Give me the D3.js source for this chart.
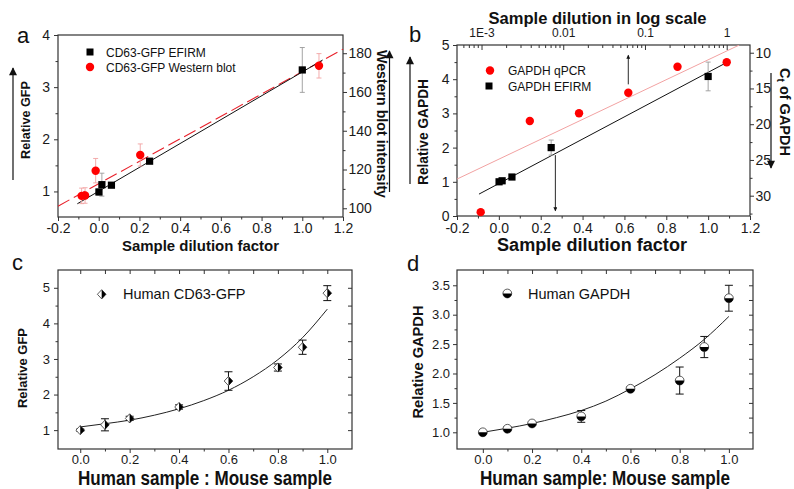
<!DOCTYPE html>
<html><head><meta charset="utf-8">
<script src="https://cdn.jsdelivr.net/npm/d3@7"></script>
<style>body{margin:0;background:#fff}svg{display:block;font-family:"Liberation Sans",Arial,sans-serif}</style>
</head><body><svg id="fig" width="794" height="489"></svg>
<script>
// ---------- Panel a ----------
const aEfirmX = [0.001, 0.0156, 0.0625, 0.25, 1.0];
const aEfirmY = [0.99, 1.13, 1.12, 1.58, 3.33];
const aEfirmErr = [0.06, 0.22, 0.04, 0.04, 0.43];
const aWbX = [-0.084, -0.067, -0.015, 0.204, 1.082];
const aWbY = [106.4, 106.6, 119.4, 127.5, 173.5];   // Western blot intensity
const aWbErr = [4.0, 4.0, 6.3, 5.7, 6.3];
const aEfirmFitX = [-0.105, 1.1], aEfirmFitY = [0.764, 3.52];
const aWbFitX = [-0.2, 1.2], aWbFitY = [101.1, 182.1];
const abXTicks = [-0.2, 0, 0.2, 0.4, 0.6, 0.8, 1.0, 1.2];
const abXMinor = [-0.1, 0.1, 0.3, 0.5, 0.7, 0.9, 1.1];
const aYTicks = [1, 2, 3, 4], aYMinor = [1.5, 2.5, 3.5];
const aY2Ticks = [100, 120, 140, 160, 180], aY2Minor = [110, 130, 150, 170];

// ---------- Panel b ----------
const bQpcrDil = [0.000977, 0.0039, 0.0156, 0.0625, 0.25, 1.0];
const bQpcrCt = [32.3, 19.55, 18.47, 15.59, 11.96, 11.34];
const bEfirmX = [0.001, 0.0156, 0.0625, 0.25, 1.0];
const bEfirmY = [1.0, 1.03, 1.14, 2.0, 4.08];
const bEfirmErr = [0.03, 0.03, 0.04, 0.22, 0.42];
const bEfirmFitX = [-0.095, 1.08], bEfirmFitY = [0.64, 4.46];
const bQpcrFitX = [-0.2, 1.149], bQpcrFitY = [1.08, 5.0];
const bYTicks = [0, 1, 2, 3, 4, 5], bYMinor = [0.5, 1.5, 2.5, 3.5, 4.5];
const bTopTicks = [0.001, 0.01, 0.1, 1], bTopLabels = ["1E-3", "0.01", "0.1", "1"];
const bCtTicks = [10, 15, 20, 25, 30], bCtMinor = [12.5, 17.5, 22.5, 27.5, 32.5];

// ---------- Panel c ----------
const cX = [0, 0.1, 0.2, 0.4, 0.6, 0.8, 0.9, 1.0];
const cY = [1.0, 1.15, 1.33, 1.65, 2.38, 2.76, 3.33, 4.85];
const cErr = [0.03, 0.17, 0.06, 0.06, 0.26, 0.1, 0.2, 0.21];
const cFitX = [0, 0.1, 0.2, 0.3, 0.4, 0.5, 0.6, 0.7, 0.8, 0.9, 1.0];
const cFitY = [1.09, 1.18, 1.28, 1.42, 1.60, 1.83, 2.12, 2.50, 2.98, 3.60, 4.40];
const cdXTicks = [0, 0.2, 0.4, 0.6, 0.8, 1.0], cdXMinor = [0.1, 0.3, 0.5, 0.7, 0.9];
const cdTopTicks = [0, 0.1, 0.2, 0.3, 0.4, 0.5, 0.6, 0.7, 0.8, 0.9, 1.0];
const cYTicks = [1, 2, 3, 4, 5], cYMinor = [1.5, 2.5, 3.5, 4.5];
const cRightTicks = [1, 1.5, 2, 2.5, 3, 3.5, 4, 4.5, 5];

// ---------- Panel d ----------
const dX = [0, 0.1, 0.2, 0.4, 0.6, 0.8, 0.9, 1.0];
const dY = [1.0, 1.06, 1.15, 1.27, 1.74, 1.88, 2.45, 3.28];
const dErr = [0.02, 0.03, 0.03, 0.1, 0.03, 0.23, 0.18, 0.22];
const dFitX = [0, 0.1, 0.2, 0.3, 0.4, 0.5, 0.6, 0.7, 0.8, 0.9, 1.0];
const dFitY = [1.0, 1.07, 1.15, 1.25, 1.37, 1.53, 1.74, 1.98, 2.26, 2.58, 2.97];
const dYTicks = [1.0, 1.5, 2.0, 2.5, 3.0, 3.5], dYMinor = [1.25, 1.75, 2.25, 2.75, 3.25];
const dRightTicks = [1.0, 1.25, 1.5, 1.75, 2.0, 2.25, 2.5, 2.75, 3.0, 3.25, 3.5];

const FONT = '"Liberation Sans", Arial, sans-serif';
const svg = d3.select('#fig');
svg.append('rect').attr('width', 794).attr('height', 489).attr('fill', '#fff');

const defs = svg.append('defs');
function mk(id, w, h) {
  defs.append('marker').attr('id', id).attr('viewBox', '0 0 10 10').attr('refX', 9).attr('refY', 5)
    .attr('markerWidth', w).attr('markerHeight', h).attr('markerUnits', 'userSpaceOnUse')
    .attr('orient', 'auto').append('path').attr('d', 'M0,0 L10,5 L0,10 z').attr('fill', '#111');
}
mk('ahBig', 9, 8); mk('ahSmall', 5, 4);

function ax(gen, scale, tr, vals, o) {
  o = Object.assign({ size: 4, inward: false, labels: false, fmt: d => d, pad: 3, fs: 14 }, o);
  const a = gen(scale).tickValues(vals).tickSizeInner(o.inward ? -o.size : o.size).tickSizeOuter(0)
    .tickPadding(o.pad).tickFormat(o.labels ? o.fmt : () => '');
  const g = svg.append('g').attr('transform', tr).call(a);
  g.select('.domain').remove();
  g.attr('font-family', FONT).attr('font-size', o.fs);
  g.selectAll('line').attr('stroke', '#333').attr('stroke-width', 1);
  g.selectAll('text').attr('fill', '#1a1a1a');
  return g;
}
function box(x0, y0, x1, y1) {
  svg.append('rect').attr('x', x0).attr('y', y0).attr('width', x1 - x0).attr('height', y1 - y0)
    .attr('fill', 'none').attr('stroke', '#333').attr('stroke-width', 1.2);
}
function txt(x, y, s, o) {
  o = Object.assign({ fs: 14, bold: false, anchor: 'start', rot: 0 }, o);
  const t = svg.append('text').attr('transform', `translate(${x},${y}) rotate(${o.rot})`)
    .attr('font-family', FONT).attr('font-size', o.fs).attr('font-weight', o.bold ? 'bold' : 'normal')
    .attr('text-anchor', o.anchor).attr('fill', '#111').text(s);
  if (o.len) t.attr('textLength', o.len).attr('lengthAdjust', 'spacingAndGlyphs');
  return t;
}
function arrow(x1, y1, x2, y2, id, w) {
  svg.append('line').attr('x1', x1).attr('y1', y1).attr('x2', x2).attr('y2', y2)
    .attr('stroke', '#111').attr('stroke-width', w || 1).attr('marker-end', `url(#${id})`);
}
function errBars(xs, ys, es, xS, yS, cap, color, w) {
  xs.forEach((x, i) => {
    const px = xS(x), y1 = yS(ys[i] - es[i]), y2 = yS(ys[i] + es[i]);
    const g = svg.append('g').attr('stroke', color).attr('stroke-width', w || 1);
    g.append('line').attr('x1', px).attr('x2', px).attr('y1', y1).attr('y2', y2);
    g.append('line').attr('x1', px - cap).attr('x2', px + cap).attr('y1', y1).attr('y2', y1);
    g.append('line').attr('x1', px - cap).attr('x2', px + cap).attr('y1', y2).attr('y2', y2);
  });
}
function fitLine(xs, ys, xS, yS, stroke, w, dash) {
  svg.append('path').attr('d', d3.line().x((d, i) => xS(d)).y((d, i) => yS(ys[i])).curve(d3.curveMonotoneX)(xs))
    .attr('fill', 'none').attr('stroke', stroke).attr('stroke-width', w).attr('stroke-dasharray', dash || null);
}
const f1 = d => d.toFixed(1);

// ================= Panel a =================
{
  const x = d3.scaleLinear([-0.2, 1.2], [58, 343]);
  const y = d3.scaleLinear([0.51, 4], [217, 35]);
  const y2 = d3.scaleLinear([95.5, 189.4], [217, 35]);
  ax(d3.axisBottom, x, 'translate(0,217)', abXTicks, { labels: true, fmt: f1, pad: 2.5 });
  ax(d3.axisBottom, x, 'translate(0,217)', abXMinor, { size: 2.5 });
  ax(d3.axisLeft, y, 'translate(58,0)', aYTicks, { labels: true, pad: 4 });
  ax(d3.axisLeft, y, 'translate(58,0)', aYMinor, { size: 2.5 });
  ax(d3.axisRight, y2, 'translate(343,0)', aY2Ticks, { labels: true, pad: 1.5 });
  ax(d3.axisRight, y2, 'translate(343,0)', aY2Minor, { size: 2.5 });
  box(58, 35, 343, 217);
  fitLine(aWbFitX, aWbFitY, x, y2, '#e8202a', 1.1, '13,5');
  fitLine(aEfirmFitX, aEfirmFitY, x, y, '#111', 1);
  errBars(aEfirmX, aEfirmY, aEfirmErr, x, y, 2.5, '#9a9a9a', 0.9);
  errBars(aWbX, aWbY, aWbErr, x, y2, 2.5, '#f2a3a3', 0.9);
  aEfirmX.forEach((d, i) => svg.append('rect').attr('x', x(d) - 3.6).attr('y', y(aEfirmY[i]) - 3.6)
    .attr('width', 7.2).attr('height', 7.2).attr('fill', '#000'));
  aWbX.forEach((d, i) => svg.append('circle').attr('cx', x(d)).attr('cy', y2(aWbY[i])).attr('r', 4.2).attr('fill', '#f00'));
  // legend
  svg.append('rect').attr('x', 86.5).attr('y', 48.5).attr('width', 7).attr('height', 7).attr('fill', '#000');
  txt(106, 57, 'CD63-GFP EFIRM', { fs: 12 });
  svg.append('circle').attr('cx', 90).attr('cy', 67).attr('r', 4.2).attr('fill', '#f00');
  txt(106, 71.5, 'CD63-GFP Western blot', { fs: 12 });
  // labels
  txt(17, 43, 'a', { fs: 22 });
  txt(30, 120, 'Relative GFP', { fs: 13, bold: true, anchor: 'middle', rot: -90, len: 78 });
  arrow(13, 180, 13, 68, 'ahBig', 1.2);
  txt(377, 124, 'Western blot intensity', { fs: 14, bold: true, anchor: 'middle', rot: 90, len: 148 });
  arrow(389.5, 192, 389.5, 51, 'ahBig', 1.2);
  txt(200.5, 251, 'Sample dilution factor', { fs: 15, bold: true, anchor: 'middle', len: 157 });
}

// ================= Panel b =================
{
  const x = d3.scaleLinear([-0.2, 1.2], [457, 750]);
  const y = d3.scaleLinear([0, 5], [216, 45]);
  const xt = d3.scaleLog([Math.pow(10, -3.3), Math.pow(10, 0.285)], [457, 750]);
  const yr = d3.scaleLinear([8.92, 32.84], [45, 216]);
  ax(d3.axisBottom, x, 'translate(0,216)', abXTicks, { labels: true, fmt: f1, pad: 3.5 });
  ax(d3.axisBottom, x, 'translate(0,216)', abXMinor, { size: 2.5 });
  ax(d3.axisLeft, y, 'translate(457,0)', bYTicks, { labels: true, pad: 3.5 });
  ax(d3.axisLeft, y, 'translate(457,0)', bYMinor, { size: 2.5 });
  ax(d3.axisRight, yr, 'translate(750,0)', bCtTicks, { labels: true, pad: 1.5 });
  ax(d3.axisRight, yr, 'translate(750,0)', bCtMinor, { size: 2.5 });
  const topMinor = [];
  bTopTicks.forEach(t => { for (let k = 2; k <= 9; k++) topMinor.push(t * k); });
  [6, 7, 8, 9].forEach(k => topMinor.push(0.0001 * k));
  const tm = topMinor.filter(v => v > xt.domain()[0] && v < xt.domain()[1]);
  ax(d3.axisTop, xt, 'translate(0,45)', bTopTicks, { labels: true, inward: true, size: 5, pad: 8, fs: 12,
    fmt: (d, i) => bTopLabels[i] });
  ax(d3.axisTop, xt, 'translate(0,45)', tm, { inward: true, size: 3 });
  box(457, 45, 750, 216);
  defs.append('clipPath').attr('id', 'clipB').append('rect').attr('x', 457).attr('y', 45).attr('width', 293).attr('height', 171);
  svg.append('path').attr('clip-path', 'url(#clipB)')
    .attr('d', d3.line().x(d => x(d)).y((d, i) => y(bQpcrFitY[i]))(bQpcrFitX))
    .attr('fill', 'none').attr('stroke', '#f2a2a2').attr('stroke-width', 1);
  fitLine(bEfirmFitX, bEfirmFitY, x, y, '#111', 1);
  errBars(bEfirmX, bEfirmY, bEfirmErr, x, y, 2.5, '#9a9a9a', 0.9);
  bEfirmX.forEach((d, i) => svg.append('rect').attr('x', x(d) - 3.6).attr('y', y(bEfirmY[i]) - 3.6)
    .attr('width', 7.2).attr('height', 7.2).attr('fill', '#000'));
  bQpcrDil.forEach((d, i) => svg.append('circle').attr('cx', xt(d)).attr('cy', yr(bQpcrCt[i])).attr('r', 4.2).attr('fill', '#f00'));
  // annotation arrows
  arrow(x(0.27), y(1.78), x(0.27), y(0.15), 'ahSmall', 0.9);
  arrow(xt(0.0625), y(3.85), xt(0.0625), y(4.7), 'ahSmall', 0.9);
  // legend
  svg.append('circle').attr('cx', 490).attr('cy', 70.5).attr('r', 4.2).attr('fill', '#f00');
  txt(508, 75, 'GAPDH qPCR', { fs: 12 });
  svg.append('rect').attr('x', 485.5).attr('y', 82.5).attr('width', 7).attr('height', 7).attr('fill', '#000');
  txt(508, 90.5, 'GAPDH EFIRM', { fs: 12 });
  // labels
  txt(409, 42, 'b', { fs: 22 });
  txt(597.5, 24, 'Sample dilution in log scale', { fs: 16.5, bold: true, anchor: 'middle', len: 218 });
  txt(428, 132, 'Relative GAPDH', { fs: 14, bold: true, anchor: 'middle', rot: -90, len: 106 });
  arrow(410, 184, 410, 57, 'ahBig', 1.2);
  const ct = svg.append('text').attr('transform', 'translate(780,112) rotate(90)')
    .attr('font-family', FONT).attr('font-size', 14.5).attr('font-weight', 'bold').attr('text-anchor', 'middle').attr('fill', '#111');
  ct.append('tspan').text('C');
  ct.append('tspan').attr('font-size', 10).attr('dy', 3.5).text('t');
  ct.append('tspan').attr('dy', -3.5).text(' of GAPDH');
  arrow(771, 73, 771, 168, 'ahBig', 1.2);
  txt(592, 251, 'Sample dilution factor', { fs: 18, bold: true, anchor: 'middle', len: 190 });
}

// ================= Panel c =================
function diamond(px, py) {
  const w = 4.3, h = 4.6;
  svg.append('path').attr('d', `M${px},${py - h}L${px + w},${py}L${px},${py + h}L${px - w},${py}Z`)
    .attr('fill', '#fff').attr('stroke', '#333').attr('stroke-width', 0.8);
  svg.append('path').attr('d', `M${px},${py - h}L${px + w},${py}L${px},${py + h}Z`).attr('fill', '#000');
}
function halfCircle(px, py) {
  const r = 4.4;
  svg.append('circle').attr('cx', px).attr('cy', py).attr('r', r).attr('fill', '#fff').attr('stroke', '#333').attr('stroke-width', 0.8);
  svg.append('path').attr('d', `M${px - r},${py}A${r},${r} 0 0 0 ${px + r},${py}Z`).attr('fill', '#000');
}
{
  const x = d3.scaleLinear([-0.09, 1.1], [58, 352]);
  const y = d3.scaleLinear([0.47, 5.5], [449, 270]);
  ax(d3.axisBottom, x, 'translate(0,449)', cdXTicks, { labels: true, fmt: f1, pad: 1.5, fs: 13 });
  ax(d3.axisBottom, x, 'translate(0,449)', cdXMinor, { size: 2.5 });
  ax(d3.axisTop, x, 'translate(0,270)', cdTopTicks, { inward: true, size: 4 });
  ax(d3.axisLeft, y, 'translate(58,0)', cYTicks, { labels: true, pad: 4, fs: 13 });
  ax(d3.axisLeft, y, 'translate(58,0)', cYMinor, { size: 2.5 });
  ax(d3.axisRight, y, 'translate(352,0)', cRightTicks, { inward: true, size: 4 });
  box(58, 270, 352, 449);
  fitLine(cFitX, cFitY, x, y, '#222', 1);
  errBars(cX, cY, cErr, x, y, 4, '#111', 1);
  cX.forEach((d, i) => diamond(x(d), y(cY[i])));
  diamond(101.7, 294.3);
  txt(123, 298.5, 'Human CD63-GFP', { fs: 14.5 });
  txt(12, 270, 'c', { fs: 22 });
  txt(26.5, 368, 'Relative GFP', { fs: 13.5, bold: true, anchor: 'middle', rot: -90, len: 80 });
  txt(205, 485, 'Human sample : Mouse sample', { fs: 19.5, bold: true, anchor: 'middle', len: 254 });
}

// ================= Panel d =================
{
  const x = d3.scaleLinear([-0.105, 1.098], [457, 753]);
  const y = d3.scaleLinear([0.716, 3.76], [449, 270]);
  ax(d3.axisBottom, x, 'translate(0,449)', cdXTicks, { labels: true, fmt: f1, pad: 1.5, fs: 13 });
  ax(d3.axisBottom, x, 'translate(0,449)', cdXMinor, { size: 2.5 });
  ax(d3.axisTop, x, 'translate(0,270)', cdTopTicks, { inward: true, size: 4 });
  ax(d3.axisLeft, y, 'translate(457,0)', dYTicks, { labels: true, fmt: f1, pad: 3, fs: 13 });
  ax(d3.axisLeft, y, 'translate(457,0)', dYMinor, { size: 2.5 });
  ax(d3.axisRight, y, 'translate(753,0)', dRightTicks, { inward: true, size: 4 });
  box(457, 270, 753, 449);
  fitLine(dFitX, dFitY, x, y, '#222', 1);
  errBars(dX, dY, dErr, x, y, 4, '#111', 1);
  dX.forEach((d, i) => halfCircle(x(d), y(dY[i])));
  halfCircle(507.3, 293.5);
  txt(528, 298.5, 'Human GAPDH', { fs: 14.5 });
  txt(407, 271, 'd', { fs: 22 });
  txt(423, 362, 'Relative GAPDH', { fs: 14.5, bold: true, anchor: 'middle', rot: -90, len: 113 });
  txt(605, 485, 'Human sample: Mouse sample', { fs: 19.5, bold: true, anchor: 'middle', len: 250 });
}
</script></body></html>
